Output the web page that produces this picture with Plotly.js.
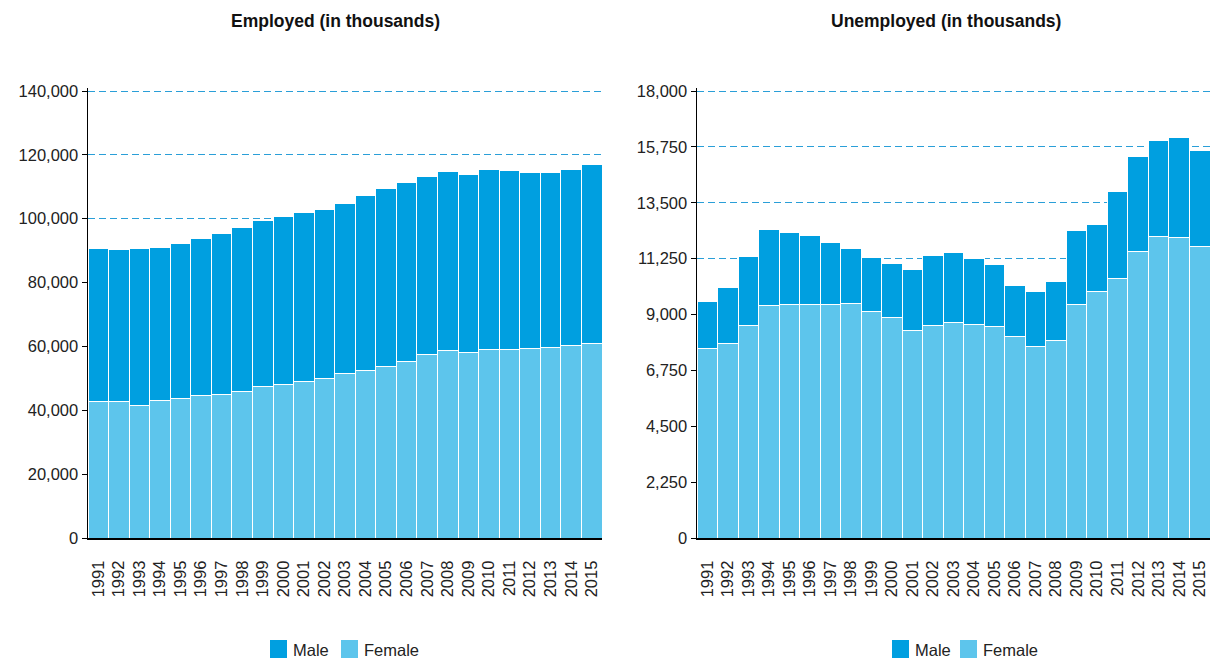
<!DOCTYPE html>
<html>
<head>
<meta charset="utf-8">
<script src="https://cdn.plot.ly/plotly-3.0.1.min.js"></script>
<style>html,body{margin:0;padding:0;background:#fff;}#chart{width:1210px;height:658px;}</style>
</head>
<body>
<div id="chart"></div>
<script>
const years = ["1991","1992","1993","1994","1995","1996","1997","1998","1999","2000","2001","2002","2003","2004","2005","2006","2007","2008","2009","2010","2011","2012","2013","2014","2015"];

const employedFemale = [42690,42890,41650,43000,43620,44560,44870,45800,47570,48090,49020,49950,51510,52450,53700,55250,57330,58580,58160,58890,59100,59410,59820,60340,61070];
const employedMale   = [47980,47570,48910,48090,48710,49330,50580,51310,51820,52550,52870,52950,53150,54940,55870,56090,55880,56180,55770,56390,55980,55040,54630,55150,55870];

const unemployedFemale = [7651,7852,8559,9360,9387,9414,9414,9454,9120,8880,8372,8546,8693,8599,8533,8132,7718,7945,9387,9908,10469,11550,12138,12098,11737];
const unemployedMale   = [1856,2230,2791,3058,2898,2777,2483,2217,2190,2190,2457,2831,2804,2658,2497,2016,2217,2390,2978,2724,3498,3819,3872,4032,3886];

const leftTicks = [0,20000,40000,60000,80000,100000,120000,140000];
const rightTicks = [0,2250,4500,6750,9000,11250,13500,15750,18000];

const panelTitles = ["Employed (in thousands)", "Unemployed (in thousands)"];
const legendNames = ["Male", "Female"];

const MALE = '#009fe0', FEMALE = '#5dc5ec';
const legendColors = [MALE, FEMALE];
const FONT = 'Liberation Sans, Arial, Helvetica, sans-serif';

// plot-area geometry (pixels)
const W = 1210, H = 658, ML = 88, MR = 0, MT = 88, MB = 120;
const PW = W - ML - MR, PH = H - MT - MB;
const px = v => (v - ML) / PW;
const py = v => (H - MB - v) / PH;

function bar(y, name, color, xa, ya) {
  return {type:'bar', x: years, y: y, name: name, xaxis: xa, yaxis: ya, showlegend:false,
    marker:{color: color, line:{color:'#ffffff', width:1}}, hoverinfo:'x+y+name'};
}

const data = [
  bar(employedFemale, 'Female', FEMALE, 'x', 'y'),
  bar(employedMale, 'Male', MALE, 'x', 'y'),
  bar(unemployedFemale, 'Female', FEMALE, 'x2', 'y2'),
  bar(unemployedMale, 'Male', MALE, 'x2', 'y2')
];

const xCommon = {type:'category', tickangle:-90, showline:true, linecolor:'#000', linewidth:2,
  ticks:'', ticklabelstandoff:14, tickfont:{size:16.5, color:'#222', family:FONT}, showgrid:false, fixedrange:true};
const yCommon = {showline:true, linecolor:'#000', linewidth:1.5, ticks:'outside', ticklen:5, tickcolor:'#000',
  tickfont:{size:16.5, color:'#222', family:FONT}, showgrid:true, gridcolor:'#2a9fd8', griddash:'7px,4px', gridwidth:1,
  zeroline:false, tickformat:',d', tickmode:'array'};

// three pixels of headroom so the top dashed gridline is drawn (Plotly drops grid lines at the very edge)
const pad = PH / (PH - 3);

const shapes = [], annotations = [];
// legends drawn as squares + labels
const legendStarts = [[270, 341], [892, 960]];
legendStarts.forEach(starts => {
  starts.forEach((sx, i) => {
    shapes.push({type:'rect', xref:'paper', yref:'paper', x0:px(sx), x1:px(sx+17), y0:py(658), y1:py(640),
      fillcolor:legendColors[i], line:{width:0}});
    annotations.push({text:legendNames[i], xref:'paper', yref:'paper', x:px(sx+21), y:py(650),
      xanchor:'left', yanchor:'middle', showarrow:false, font:{size:16.5, color:'#222', family:FONT}});
  });
});
[[335, panelTitles[0]], [946, panelTitles[1]]].forEach(([cx, t]) => {
  annotations.push({text:'<b>' + t + '</b>', xref:'paper', yref:'paper', x:px(cx), y:py(21),
    xanchor:'center', yanchor:'middle', showarrow:false, font:{size:17.5, color:'#111', family:FONT}});
});

const layout = {
  width:W, height:H,
  margin:{l:ML, r:MR, t:MT, b:MB},
  paper_bgcolor:'#fff', plot_bgcolor:'#fff',
  barmode:'stack', bargap:0, showlegend:false,
  font:{family:FONT, color:'#222'},
  xaxis: Object.assign({}, xCommon, {domain:[0, px(602)], anchor:'y'}),
  xaxis2: Object.assign({}, xCommon, {domain:[px(697), 1], anchor:'y2'}),
  yaxis: Object.assign({}, yCommon, {range:[0, leftTicks[leftTicks.length-1]*pad], tickvals:leftTicks, anchor:'x'}),
  yaxis2: Object.assign({}, yCommon, {range:[0, rightTicks[rightTicks.length-1]*pad], tickvals:rightTicks, anchor:'x2'}),
  shapes: shapes,
  annotations: annotations
};

Plotly.newPlot('chart', data, layout, {displayModeBar:false, staticPlot:true});
</script>
</body>
</html>
